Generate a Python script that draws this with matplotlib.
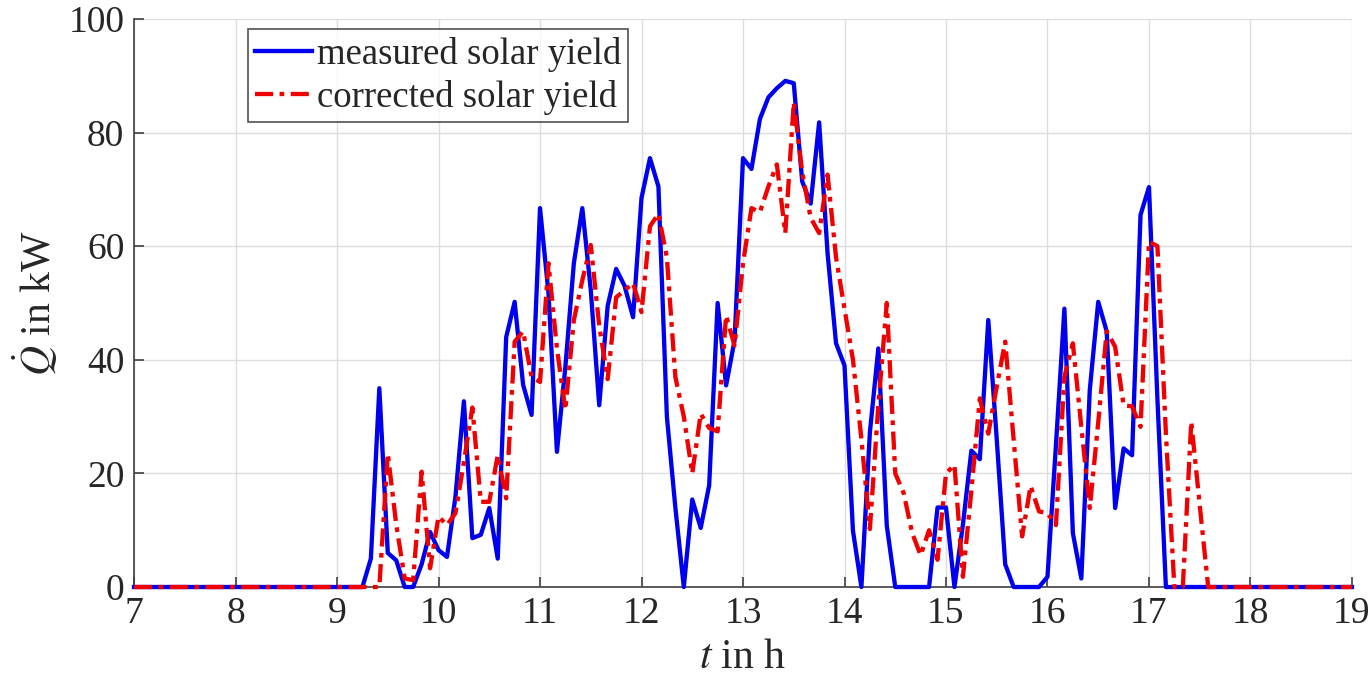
import numpy as np
import matplotlib.pyplot as plt

plt.rcParams['font.family'] = ['Liberation Serif', 'DejaVu Serif']
plt.rcParams['mathtext.fontset'] = 'stix'

# 5-minute samples between 7:00 and 19:00
T_START, T_END, N_SAMPLES = 7.0, 19.0, 145
t = np.linspace(T_START, T_END, N_SAMPLES)

# solar yield in kW
measured = [0.0] * 28 + [
    5, 35, 6, 4.7, 0, 0, 4, 9.7, 6.5, 5.3,
    15.9, 32.7, 8.6, 9.2, 13.9, 5, 44, 50.2, 35.6, 30.3,
    66.7, 51.7, 23.8, 38.8, 57, 66.7, 52.3, 32, 49.5, 56,
    53, 47.5, 68.5, 75.5, 70.5, 30, 14, 0, 15.4, 10.4,
    17.9, 50, 35.5, 43.4, 75.5, 73.6, 82.4, 86.2, 87.8, 89.1,
    88.7, 71.4, 67.5, 81.8, 58.7, 42.9, 39, 9.9, 0, 27.2,
    42, 10.8, 0, 0, 0, 0, 0, 14, 14, 0,
    11, 24, 22.5, 47, 26, 4, 0, 0, 0, 0,
    1.8, 25, 49, 9.5, 1.5, 34.7, 50.2, 45, 13.9, 24.4,
    23.2, 65.5, 70.4, 33,
] + [0.0] * 23

corrected = [0.0] * 30 + [
    23.5, 11, 1.5, 1.2, 20.3, 3.3, 12.4, 10.9, 13, 22,
    31.6, 15, 15, 23.2, 15.6, 43.2, 45, 37, 36.1, 57,
    42, 31.2, 47, 54, 60.2, 46, 36.6, 51, 52.2, 53.5,
    48.4, 63.5, 65.7, 58, 37, 30, 20, 30.5, 28, 27.4,
    47.8, 42.5, 57, 66.7, 66, 70.5, 74.4, 62.3, 85.3, 73,
    65, 62.3, 72.6, 58, 49, 40, 26, 10.2, 32, 50,
    20, 16.5, 9.5, 5.6, 10, 4.8, 20, 21.5, 1.8, 17,
    33.2, 27, 35.3, 43.2, 25.9, 8.9, 17.8, 13.3, 13, 10.9,
    37, 42.9, 28.2, 13.9, 29, 45, 42.3, 32, 31.8, 28.2,
    60.8, 60, 27, 0, 0, 29.1, 14.4,
] + [0.0] * 18

fig = plt.figure(figsize=(13.72, 6.78), dpi=100)
ax = fig.add_axes([0.0977, 0.1342, 0.8877, 0.8378])

ax.plot(t, measured, color='#0000f0', lw=3.1, label='measured solar yield',
        clip_on=False, zorder=3)
ax.plot(t, corrected, color='#f00000', lw=3.1, dashes=(4.2, 1.5, 1.1, 1.5),
        label='corrected solar yield', clip_on=False, zorder=4)

ax.set_xlim(7, 19)
ax.set_ylim(0, 100)
ax.set_xticks(np.arange(7, 20, 1))
ax.set_yticks(np.arange(0, 101, 20))
ax.grid(True, color='#dedede', lw=1.0)
ax.set_axisbelow(True)

for side in ('top', 'right'):
    ax.spines[side].set_visible(False)
for side in ('left', 'bottom'):
    ax.spines[side].set_color('#404040')
    ax.spines[side].set_linewidth(1.2)
ax.tick_params(direction='in', length=7, width=1.2, color='#404040',
               labelsize=27, labelcolor='#262626', pad=7)

ax.set_xlabel(r'$t$ in h', fontsize=30, color='#262626', labelpad=5)
ax.set_ylabel(r'$\dot{Q}$ in kW', fontsize=30, color='#262626', labelpad=6)

leg = ax.legend(loc='upper left', bbox_to_anchor=(0.0936, 0.982),
                borderaxespad=0, fontsize=26.5, frameon=True, fancybox=False,
                handlelength=1.55, handletextpad=0.12, borderpad=0.2,
                labelspacing=0.22)
leg.get_frame().set_edgecolor('#262626')
leg.get_frame().set_linewidth(1.2)
for txt in leg.get_texts():
    txt.set_color('#262626')

fig.savefig('out.png', dpi=100)
